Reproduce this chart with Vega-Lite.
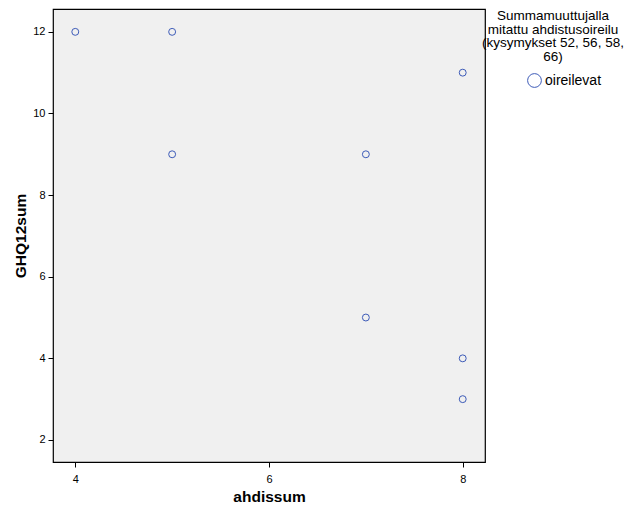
{
  "$schema": "https://vega.github.io/schema/vega-lite/v6.json",
  "width": 432,
  "height": 453,
  "autosize": "none",
  "padding": {"left": 53, "top": 9, "right": 150, "bottom": 49},
  "background": "white",
  "config": {
    "font": "Liberation Sans",
    "view": {"fill": "#f0f0f0", "stroke": "#000000", "strokeWidth": 1.2},
    "axis": {"grid": false, "domain": false, "tickColor": "#000000", "tickSize": 5, "labelColor": "#000000", "labelFontSize": 11, "labelFont": "Liberation Sans", "titleFont": "Liberation Sans", "titleFontSize": 15.5, "titleFontWeight": "bold", "titleColor": "#000000"}
  },
  "data": {
    "values": [
      {"ahdissum": 4, "GHQ12sum": 12, "ryhma": "oireilevat"},
      {"ahdissum": 5, "GHQ12sum": 12, "ryhma": "oireilevat"},
      {"ahdissum": 5, "GHQ12sum": 9, "ryhma": "oireilevat"},
      {"ahdissum": 7, "GHQ12sum": 9, "ryhma": "oireilevat"},
      {"ahdissum": 8, "GHQ12sum": 11, "ryhma": "oireilevat"},
      {"ahdissum": 7, "GHQ12sum": 5, "ryhma": "oireilevat"},
      {"ahdissum": 8, "GHQ12sum": 4, "ryhma": "oireilevat"},
      {"ahdissum": 8, "GHQ12sum": 3, "ryhma": "oireilevat"}
    ]
  },
  "mark": {"type": "point", "shape": "circle", "filled": false, "size": 48, "strokeWidth": 1, "opacity": 1},
  "encoding": {
    "x": {"field": "ahdissum", "type": "quantitative", "scale": {"domain": [3.77, 8.23], "nice": false, "zero": false}, "axis": {"values": [4, 6, 8], "title": "ahdissum", "titlePadding": 5, "labelPadding": 6}},
    "y": {"field": "GHQ12sum", "type": "quantitative", "scale": {"domain": [1.46, 12.56], "nice": false, "zero": false}, "axis": {"values": [2, 4, 6, 8, 10, 12], "title": "GHQ12sum", "titlePadding": 4, "labelPadding": 3}},
    "color": {"field": "ryhma", "type": "nominal", "scale": {"range": ["#3d5bb8"]}, "legend": {
      "title": ["Summamuuttujalla", "mitattu ahdistusoireilu", "(kysymykset 52, 56, 58,", "66)"],
      "orient": "none", "legendX": 429, "legendY": 0,
      "titleFontSize": 13.5, "titleFontWeight": "normal", "titleColor": "#000000", "titleFont": "Liberation Sans",
      "titleAlign": "center", "titleAnchor": "middle", "titleLineHeight": 13.5, "titlePadding": 10,
      "labelFontSize": 14, "labelColor": "#000000", "labelFont": "Liberation Sans", "labelOffset": 3,
      "symbolSize": 190, "symbolType": "circle", "symbolStrokeWidth": 1, "symbolOffset": 23
    }}
  }
}
